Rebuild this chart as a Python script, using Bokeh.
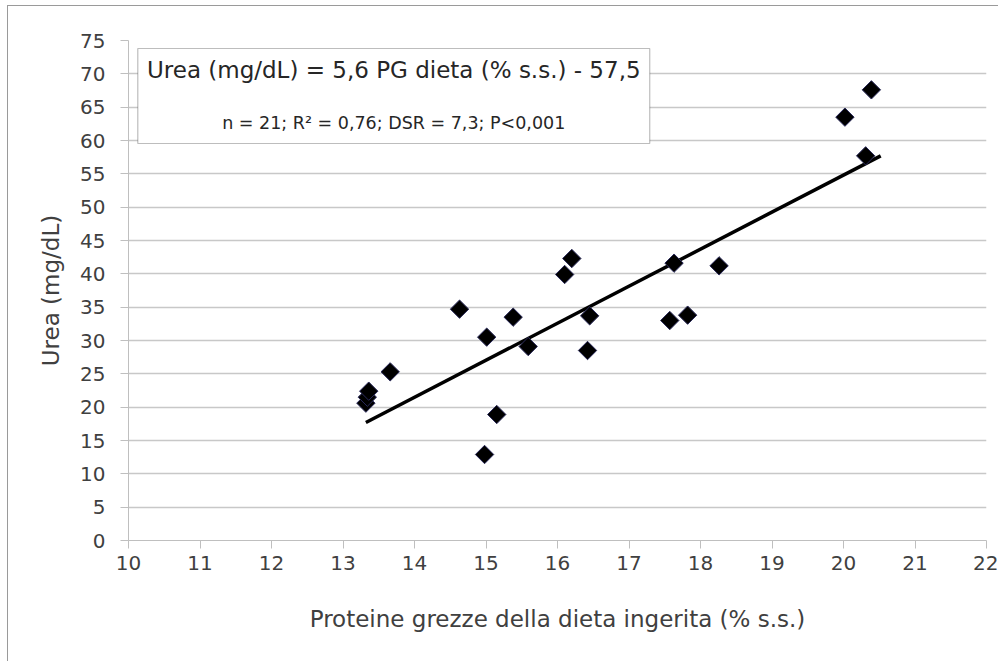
from bokeh.plotting import figure
from bokeh.models import FixedTicker, BoxAnnotation, Label, ColumnDataSource, InlineStyleSheet
from bokeh.embed import file_html
from bokeh.resources import INLINE

# ---- data ----
protein = [13.32, 13.34, 13.36, 13.66, 14.63, 15.01, 14.98, 15.15, 15.38, 15.59, 16.10,
           16.20, 16.42, 16.45, 17.57, 17.63, 17.82, 18.26, 20.02, 20.31, 20.39]
urea = [20.6, 21.5, 22.4, 25.3, 34.7, 30.5, 12.9, 18.9, 33.5, 29.1, 39.9,
        42.3, 28.5, 33.7, 33.0, 41.6, 33.8, 41.2, 63.5, 57.7, 67.6]
trend_x = [13.32, 20.52]
trend_y = [17.7, 57.7]
x_ticks = list(range(10, 23))
y_ticks = list(range(0, 80, 5))
eq_text = "Urea (mg/dL) = 5,6 PG dieta (% s.s.) - 57,5"
stat_text = "n = 21; R\u00b2 = 0,76; DSR = 7,3; P<0,001"
x_title = "Proteine grezze della dieta ingerita (% s.s.)"
y_title = "Urea (mg/dL)"

FONT = "DejaVu Sans"
TXT = "#404040"
AX = "#bfbfbf"

p = figure(frame_width=858, frame_height=500,
           x_range=(10, 22), y_range=(0, 75),
           output_backend="svg", toolbar_location=None,
           min_border_left=120, min_border_right=12,
           min_border_top=34, min_border_bottom=121,
           background_fill_color="white", border_fill_color="white")
p.stylesheets = [InlineStyleSheet(css=":host { margin-left: 7px; margin-top: 5px; "
                                      "border-left: 1px solid #9a9a9a; border-top: 1px solid #9a9a9a; }")]
p.outline_line_color = None

p.xaxis.ticker = FixedTicker(ticks=x_ticks)
p.yaxis.ticker = FixedTicker(ticks=y_ticks)
for ax in (p.xaxis, p.yaxis):
    ax.axis_line_color = AX
    ax.major_tick_line_color = AX
    ax.major_tick_out = 8
    ax.major_tick_in = 0
    ax.minor_tick_line_color = None
    ax.major_label_text_font = FONT
    ax.major_label_text_font_size = "20px"
    ax.major_label_text_color = TXT
    ax.axis_label_text_font = FONT
    ax.axis_label_text_font_size = "23px"
    ax.axis_label_text_font_style = "normal"
    ax.axis_label_text_color = TXT

p.xaxis.axis_label = x_title
p.yaxis.axis_label = y_title
p.xaxis.major_label_standoff = 7
p.yaxis.major_label_standoff = 15
p.xaxis.axis_label_standoff = 33
p.yaxis.axis_label_standoff = 13

p.xgrid.grid_line_color = None
p.ygrid.grid_line_color = "#c8c8c8"
p.ygrid.grid_line_width = 1.5

src = ColumnDataSource(dict(x=protein, y=urea))
p.line(trend_x, trend_y, line_color="black", line_width=3.5)
p.scatter("x", "y", source=src, marker="square", size=13, angle=0.785398,
          fill_color="black", line_color="#2a2a5a", line_width=1)

box = BoxAnnotation(left=10.13, right=17.29, bottom=59.55, top=73.8,
                    fill_color="white", fill_alpha=1.0,
                    line_color="#262626", line_width=1.2)
p.add_layout(box)
p.add_layout(Label(x=13.71, y=70.65, text=eq_text, text_align="center",
                   text_baseline="middle", text_font=FONT, text_font_size="23px",
                   text_color="#262626"))
p.add_layout(Label(x=13.71, y=62.6, text=stat_text, text_align="center",
                   text_baseline="middle", text_font=FONT, text_font_size="17.5px",
                   text_color="#262626"))

open("out.html", "w").write(file_html(p, INLINE))
